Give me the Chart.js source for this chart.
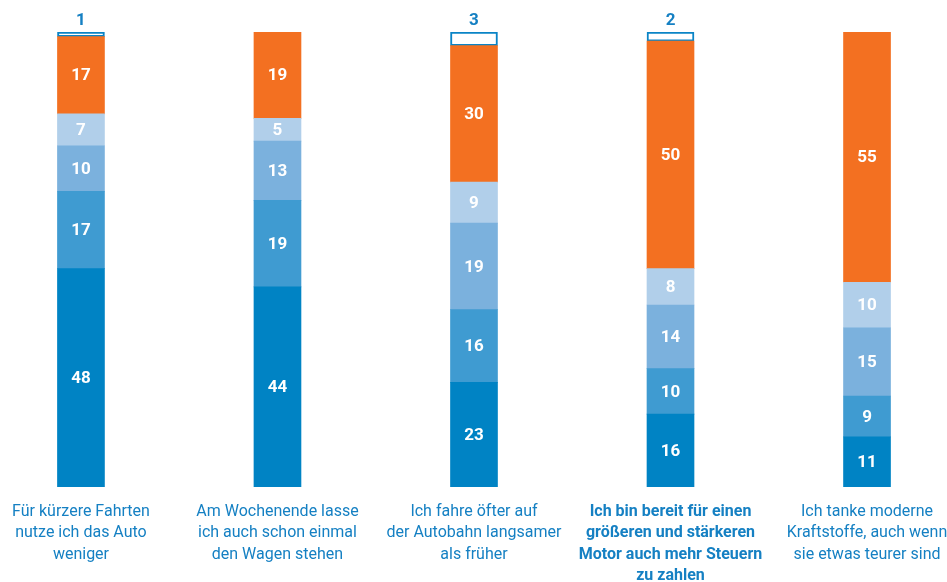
<!DOCTYPE html>
<html>
<head>
<meta charset="utf-8">
<script src="https://cdn.jsdelivr.net/npm/chart.js@4"></script>
<style>
  body { margin: 0; background: #fff; }
  #wrap { width: 947px; height: 582px; position: relative; }
</style>
</head>
<body>
<div id="wrap"><canvas id="chart"></canvas></div>
<script>
const categories = [
    ['Für kürzere Fahrten', 'nutze ich das Auto', 'weniger'],
    ['Am Wochenende lasse', 'ich auch schon einmal', 'den Wagen stehen'],
    ['Ich fahre öfter auf', 'der Autobahn langsamer', 'als früher'],
    ['Ich bin bereit für einen', 'größeren und stärkeren', 'Motor auch mehr Steuern', 'zu zahlen'],
    ['Ich tanke moderne', 'Kraftstoffe, auch wenn', 'sie etwas teurer sind']
];

// bottom to top
const seriesDark   = [48, 44, 23, 16, 11];
const seriesMid    = [17, 19, 16, 10, 9];
const seriesLight  = [10, 13, 19, 14, 15];
const seriesPale   = [7, 5, 9, 8, 10];
const seriesOrange = [17, 19, 30, 50, 55];
const seriesOpen   = [1, 0, 3, 2, 0];

const blueText = '#1580c3';
const fontFamily = "'Roboto', sans-serif";

function toPoints(values){
    return values.map((v, i) => ({x: i, y: v === 0 ? null : v}));
}

function makeSet(values, color, open){
    return {
        data: toPoints(values),
        backgroundColor: open ? '#ffffff' : color,
        borderColor: open ? '#0a84c6' : color,
        borderWidth: open ? 2 : 0,
        borderSkipped: false,
        barThickness: 47,
        isOpen: !!open
    };
}

// draws the numbers on / above each segment
const valueLabels = {
    id: 'valueLabels',
    afterDatasetsDraw(chart){
        const ctx = chart.ctx;
        ctx.save();
        ctx.textAlign = 'center';
        chart.data.datasets.forEach((ds, di) => {
            const meta = chart.getDatasetMeta(di);
            meta.data.forEach((bar, i) => {
                const v = ds.data[i].y;
                if(!v) return;
                ctx.font = 'bold 17px ' + fontFamily;
                if(ds.isOpen){
                    ctx.fillStyle = blueText;
                    ctx.textBaseline = 'alphabetic';
                    ctx.fillText(v, bar.x, bar.y - 7);
                } else {
                    ctx.fillStyle = '#ffffff';
                    ctx.textBaseline = 'middle';
                    ctx.fillText(v, bar.x, (bar.y + bar.base) / 2 + 1);
                }
            });
        });
        ctx.restore();
    }
};

var mainChart = new Chart(
    document.getElementById('chart'),
    {
        type: 'bar',
        data: {
            datasets: [
                makeSet(seriesDark, '#0083c4'),
                makeSet(seriesMid, '#3f9bd1'),
                makeSet(seriesLight, '#7bb1dd'),
                makeSet(seriesPale, '#b1cfea'),
                makeSet(seriesOrange, '#f37021'),
                makeSet(seriesOpen, '#ffffff', true)
            ]
        },
        plugins: [valueLabels],
        options: {
            responsive: true,
            maintainAspectRatio: false,
            animation: false,
            layout: {
                padding: {top: 32, left: 0, right: 0, bottom: 0}
            },
            plugins: {
                legend: { display: false },
                tooltip: { enabled: false }
            },
            scales: {
                x: {
                    type: 'linear',
                    stacked: true,
                    offset: false,
                    min: -0.412,
                    max: 4.407,
                    grid: { display: false, drawTicks: false },
                    border: { display: false },
                    afterBuildTicks: function(scale){
                        scale.ticks = categories.map((c, i) => ({value: i}));
                    },
                    afterFit: function(scale){
                        scale.height = 95;
                        scale.paddingLeft = 0;
                        scale.paddingRight = 0;
                    },
                    ticks: {
                        autoSkip: false,
                        maxRotation: 0,
                        padding: 14,
                        color: blueText,
                        callback: function(value){
                            return categories[value];
                        },
                        font: function(context){
                            return {
                                family: fontFamily,
                                size: 16,
                                lineHeight: 1.34,
                                weight: context.index === 3 ? 'bold' : 'normal'
                            };
                        }
                    }
                },
                y: {
                    stacked: true,
                    display: false,
                    min: 0,
                    max: 100
                }
            }
        }
    }
);
</script>
</body>
</html>
